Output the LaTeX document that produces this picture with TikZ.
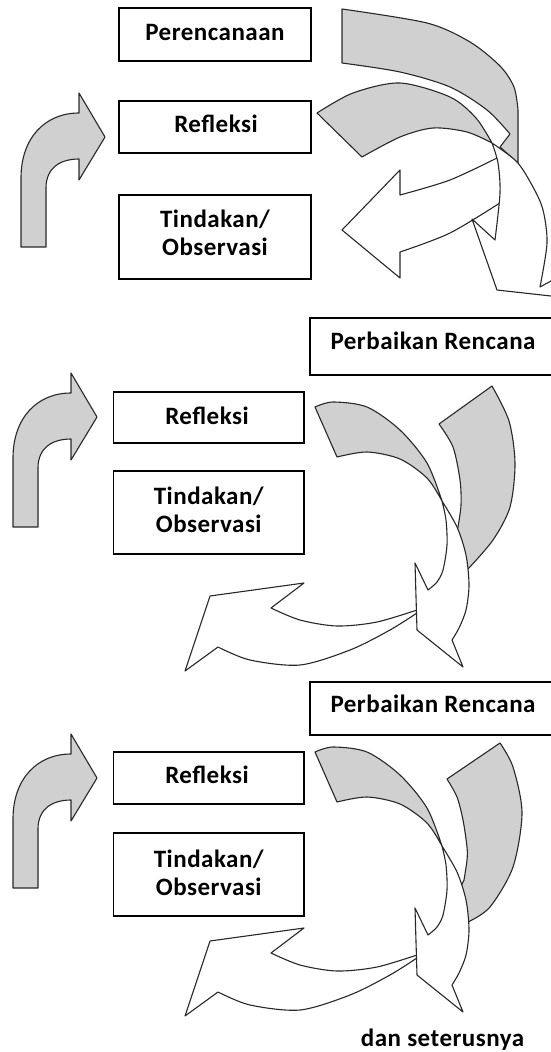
\documentclass[tikz,border=0pt]{standalone}
\usepackage{fontspec}
\setmainfont{Carlito}
\newfontfamily\lblfont{Carlito}[LetterSpace=2]
\definecolor{shade}{RGB}{208,208,208}
\definecolor{edge}{RGB}{40,40,40}
\begin{document}
\begin{tikzpicture}[x=1pt,y=-1pt,
  boxst/.style={draw=black, line width=1.3pt, fill=white, inner sep=0pt},
  lbl/.style={font=\lblfont\bfseries\fontsize{25}{28}\selectfont, align=center, inner sep=0pt},
  grayband/.style={fill=shade, draw=edge, line width=1.1pt, line join=round},
  whiteband/.style={fill=white, draw=edge, line width=1.1pt, line join=round},
  bentarrow/.style={fill=shade, draw=edge, line width=1.1pt, line join=round}]
\useasboundingbox (0,0) rectangle (551,1052);
\clip (0,0) rectangle (551,1052);
\fill[white] (0,0) rectangle (551,1052);

% ---------------- left bent arrows ----------------
\foreach \dx/\dy in {0/0, -8/280, -8/641}{
\begin{scope}[shift={(\dx,\dy)}]
\filldraw[bentarrow] (21,247) -- (21,178) .. controls (21,138) and (45,113) .. (79,113)
  -- (79,93) -- (105,137) -- (79,180) -- (79,159) .. controls (60,159) and (46,168) .. (46,188)
  -- (46,247) -- cycle;
\end{scope}}

% ---------------- top section ----------------
\filldraw[grayband] plot[smooth] coordinates {(342,9) (427,23) (470,42) (500,66) (514,87) (518,110)}
  -- (518,163) -- (500,147) -- (510,134)
  -- plot[smooth] coordinates {(510,134) (487,110) (450,87) (400,72) (342,63)} -- cycle;
\filldraw[whiteband] (342,230) -- (400,170) -- (400,195)
  -- plot[smooth] coordinates {(400,195) (450,180) (499,157)} -- (503,201)
  -- plot[smooth] coordinates {(503,201) (450,233) (400,252)} -- (400,278) -- cycle;
\filldraw[grayband] plot[smooth] coordinates {(317,113) (353,93) (400,83) (450,97) (476,118) (492,143)}
  -- plot[smooth] coordinates {(492,143) (467,132) (433,128) (400,137) (362,157)} -- cycle;
\filldraw[whiteband] plot[smooth] coordinates {(492,143) (498,163) (500,193) (495,240)}
  -- (472,219) -- (497,290) -- (560,297) -- (560,276) -- (540,287)
  -- plot[smooth] coordinates {(540,287) (547,243) (543,210) (533,187) (517,162) (492,143)} -- cycle;

% ---------------- middle and bottom sections ----------------
\filldraw[grayband] (439,424) -- (492,386)
  -- plot[smooth] coordinates {(492,386) (509,421) (515,463) (510,507) (493,540) (468,569)}
  -- (450,555) -- (458,527)
  -- plot[smooth] coordinates {(458,527) (461,505) (460,480) (453,447) (439,424)} -- cycle;
\foreach \dy in {0,345}{
\begin{scope}[shift={(0,\dy)}]
\filldraw[grayband] plot[smooth] coordinates {(315,407) (333,402) (367,407) (400,430) (427,463) (442,501)}
  -- plot[smooth] coordinates {(442,501) (427,478) (400,459) (367,452) (337,457)} -- cycle;
\filldraw[whiteband] plot[smooth] coordinates {(420,609) (377,622) (337,626) (300,620) (271,608)}
  -- (304,583) -- (210,596) -- (185,671) -- (218,647)
  -- plot[smooth] coordinates {(218,647) (250,660) (300,665) (350,650) (390,630) (420,611)} -- cycle;
\ifnum\dy=345
\filldraw[grayband] (447,434) -- (500,398)
  -- plot[smooth] coordinates {(500,398) (513,422) (522,468) (513,522) (490,562) (468,577)}
  -- (452,560) -- (464,535)
  -- plot[smooth] coordinates {(464,535) (467,515) (467,502) (463,475) (457,452) (447,434)} -- cycle;
\fi
\filldraw[whiteband] plot[smooth] coordinates {(442,501) (446,520) (447,545) (443,570) (437,582) (428,590)}
  -- (415,563) -- (417,630) -- (463,667) -- (452,640)
  -- plot[smooth] coordinates {(452,640) (459,628) (466,610) (469,585) (466,555) (457,527) (442,501)} -- cycle;
\end{scope}}

% ---------------- boxes ----------------
\node[boxst, minimum width=192pt, minimum height=53pt] (p1) at (215,34.5) {};
\node[boxst, minimum width=192pt, minimum height=52pt] (r1) at (215,127) {};
\node[boxst, minimum width=192pt, minimum height=84pt] (t1) at (215,237) {};
\node[boxst, minimum width=246pt, minimum height=57pt] (pr2) at (433,346.5) {};
\node[boxst, minimum width=190.5pt, minimum height=51pt] (r2) at (208.75,417.5) {};
\node[boxst, minimum width=190.5pt, minimum height=83pt] (t2) at (208.75,512.5) {};
\node[boxst, minimum width=246pt, minimum height=53pt] (pr3) at (433,708.5) {};
\node[boxst, minimum width=190.5pt, minimum height=52pt] (r3) at (208.75,778) {};
\node[boxst, minimum width=190.5pt, minimum height=83pt] (t3) at (208.75,874.5) {};

\node[lbl, anchor=base] (p1t) at (215,40) {Perencanaan};
\node[lbl, anchor=base] (r1t) at (216,132) {Refleksi};
\node[lbl] (t1t) at (215,232.5) {Tindakan/\\Observasi};
\node[lbl, anchor=base] (pr2t) at (433,349) {Perbaikan Rencana};
\node[lbl, anchor=base] (r2t) at (207,424) {Refleksi};
\node[lbl] (t2t) at (208.75,509.5) {Tindakan/\\Observasi};
\node[lbl, anchor=base] (pr3t) at (433,712) {Perbaikan Rencana};
\node[lbl, anchor=base] (r3t) at (207,783) {Refleksi};
\node[lbl] (t3t) at (208.75,873) {Tindakan/\\Observasi};
\node[lbl, anchor=base] (dst) at (442.5,1046) {dan seterusnya};
\end{tikzpicture}
\end{document}
